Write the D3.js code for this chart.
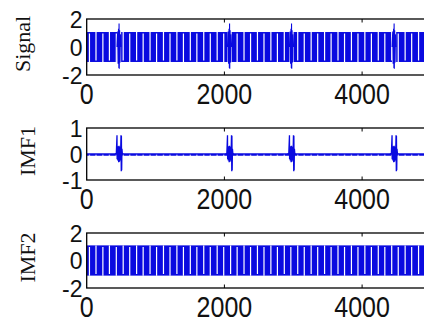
<!DOCTYPE html>
<html>
<head>
<meta charset="utf-8">
<script src="https://cdn.jsdelivr.net/npm/d3@7"></script>
<style>
  html, body { margin: 0; padding: 0; background: #fff; }
  svg { display: block; }
</style>
</head>
<body>
<script>
// ---------------- data ----------------
const panelNames = ["Signal", "IMF1", "IMF2"];
const xTicks = [0, 2000, 4000];
const signalYTicks = [-2, 0, 2];
const imf1YTicks = [-1, 0, 1];
const imf2YTicks = [-2, 0, 2];
const signalYDomain = [-2, 2];
const imf1YDomain = [-1, 1];
const imf2YDomain = [-2, 2];
const xDomain = [0, 6000];

// dense oscillation band (min / max envelope)
const signalBand = [-1.07, 1.07];
const imf2Band = [-1.1, 1.1];

// positions of the visible gaps in the dense oscillation (sample index)
const gapX = [40, 135, 235, 330, 430, 530, 625, 725, 820, 920, 1015, 1115, 1210, 1310, 1405,
  1505, 1600, 1700, 1795, 1895, 1990, 2090, 2185, 2285, 2380, 2480, 2575, 2675, 2770, 2870,
  2965, 3065, 3160, 3260, 3355, 3455, 3550, 3650, 3745, 3845, 3940, 4040, 4135, 4235, 4330,
  4430, 4525, 4625, 4720, 4820, 4915, 5015, 5110, 5210, 5305, 5405, 5500, 5600, 5695, 5795, 5890];

// transient bursts
const burstCenters = [470, 2075, 2975, 4465];
const imf1BurstOffsets = [-60, -40, -30, -28, -24, -18, -12, -6, 0, 6, 12, 18, 24, 28, 32, 34, 38, 42, 48, 60];
const imf1BurstValues  = [0, 0.02, 0.72, -0.2, 0.18, -0.25, 0.3, -0.32, 0.32, -0.3, 0.28, -0.25, 0.2, 0.72, -0.66, 0.7, -0.62, 0.2, 0.02, 0];
const signalBurstOffsets = [-30, -20, -14, -8, -3, 0, 3, 8, 14, 20, 30];
const signalBurstValues  = [0, 1.1, -1.2, 1.3, -1.5, 1.68, -1.55, 1.2, -1.1, 0.9, 0];

// ---------------- layout ----------------
const W = 424, H = 322;
const svg = d3.select("body").append("svg").attr("width", W).attr("height", H);
const x = d3.scaleLinear().domain(xDomain).range([86.7, 499.8]);
const blue = "#0a0ae0";

const panels = [
  { name: panelNames[0], top: 19, bottom: 75, domain: signalYDomain, ticks: signalYTicks, band: signalBand, kind: "signal", labelX: 30 },
  { name: panelNames[1], top: 128, bottom: 180, domain: imf1YDomain, ticks: imf1YTicks, band: null, kind: "imf1", labelX: 35 },
  { name: panelNames[2], top: 233, bottom: 288, domain: imf2YDomain, ticks: imf2YTicks, band: imf2Band, kind: "imf2", labelX: 35 }
];

svg.append("defs").selectAll("clipPath").data(panels).join("clipPath")
  .attr("id", (d, i) => "clip" + i)
  .append("rect")
  .attr("x", x(xDomain[0])).attr("y", d => d.top)
  .attr("width", x(xDomain[1]) - x(xDomain[0])).attr("height", d => d.bottom - d.top);

panels.forEach((p, i) => {
  const y = d3.scaleLinear().domain(p.domain).range([p.bottom, p.top]);
  const g = svg.append("g");
  const plot = g.append("g").attr("clip-path", `url(#clip${i})`);

  if (p.band) {
    plot.append("rect")
      .attr("x", x(0)).attr("width", x(xDomain[1]) - x(0))
      .attr("y", y(p.band[1])).attr("height", y(p.band[0]) - y(p.band[1]))
      .attr("fill", blue);
    plot.selectAll("line.gap").data(gapX).join("line")
      .attr("class", "gap")
      .attr("x1", d => x(d)).attr("x2", d => x(d))
      .attr("y1", (d, k) => y(p.band[1]) + (k % 2 === 0 ? 1.6 : 0))
      .attr("y2", (d, k) => y(p.band[0]) - (k % 2 === 1 ? 1.6 : 0))
      .attr("stroke", "#fff").attr("stroke-width", 1.2);
  }

  if (p.kind === "signal") {
    plot.selectAll("rect.hole").data(burstCenters).join("rect")
      .attr("class", "hole")
      .attr("x", d => x(d - 30)).attr("width", x(60) - x(0))
      .attr("y", y(p.band[1])).attr("height", y(p.band[0]) - y(p.band[1]))
      .attr("fill", "#fff");
    const line = d3.line().x(d => x(d[0])).y(d => y(d[1]));
    plot.selectAll("path.burst").data(burstCenters).join("path")
      .attr("class", "burst")
      .attr("d", c => line(signalBurstOffsets.map((o, k) => [c + o, signalBurstValues[k]])))
      .attr("fill", "none").attr("stroke", blue).attr("stroke-width", 1.1);
  }

  if (p.kind === "imf1") {
    plot.append("line")
      .attr("x1", x(0)).attr("x2", x(xDomain[1]))
      .attr("y1", y(-0.02)).attr("y2", y(-0.02))
      .attr("stroke", blue).attr("stroke-width", 2.6);
    plot.selectAll("rect.rip").data(gapX).join("rect")
      .attr("class", "rip")
      .attr("x", d => x(d) - 0.7).attr("width", 1.4)
      .attr("y", y(-0.02) + 0.2).attr("height", 1.1)
      .attr("fill", "#fff").attr("opacity", 0.8);
    const line = d3.line().x(d => x(d[0])).y(d => y(d[1]));
    plot.selectAll("path.burst").data(burstCenters).join("path")
      .attr("class", "burst")
      .attr("d", c => line(imf1BurstOffsets.map((o, k) => [c + o, imf1BurstValues[k]])))
      .attr("fill", "none").attr("stroke", blue).attr("stroke-width", 1.3);
  }

  // box
  g.append("rect")
    .attr("x", x(xDomain[0])).attr("y", p.top)
    .attr("width", x(xDomain[1]) - x(xDomain[0])).attr("height", p.bottom - p.top)
    .attr("fill", "none").attr("stroke", "#000").attr("stroke-width", 1.3);

  const xt = xTicks.filter(t => t > xDomain[0]);
  g.selectAll("line.xtb").data(xt).join("line")
    .attr("x1", d => x(d)).attr("x2", d => x(d))
    .attr("y1", p.bottom).attr("y2", p.bottom - 3.5)
    .attr("stroke", "#000").attr("stroke-width", 1);
  g.selectAll("line.xtt").data(xt).join("line")
    .attr("x1", d => x(d)).attr("x2", d => x(d))
    .attr("y1", p.top).attr("y2", p.top + 3.5)
    .attr("stroke", "#000").attr("stroke-width", 1);

  // x tick labels
  g.selectAll("text.xl").data(xTicks).join("text")
    .attr("transform", d => `translate(${x(d)},${p.bottom + 28.5}) scale(1,1.18)`)
    .attr("text-anchor", "middle")
    .attr("font-family", "Liberation Sans, Arial, sans-serif")
    .attr("font-size", 25)
    .attr("fill", "#111")
    .text(d => d);

  // y tick labels
  g.selectAll("text.yl").data(p.ticks).join("text")
    .attr("transform", d => `translate(82.5,${y(d) + 8.5}) scale(1,1.05)`)
    .attr("text-anchor", "end")
    .attr("font-family", "Liberation Sans, Arial, sans-serif")
    .attr("font-size", 23)
    .attr("fill", "#111")
    .text(d => d < 0 ? "-" + Math.abs(d) : d);

  // y label
  g.append("text")
    .attr("transform", `translate(${p.labelX},${(p.top + p.bottom) / 2 - 3}) rotate(-90)`)
    .attr("text-anchor", "middle")
    .attr("font-family", "Liberation Serif, Times New Roman, serif")
    .attr("font-size", 22)
    .attr("fill", "#111")
    .text(p.name);
});
</script>
</body>
</html>
